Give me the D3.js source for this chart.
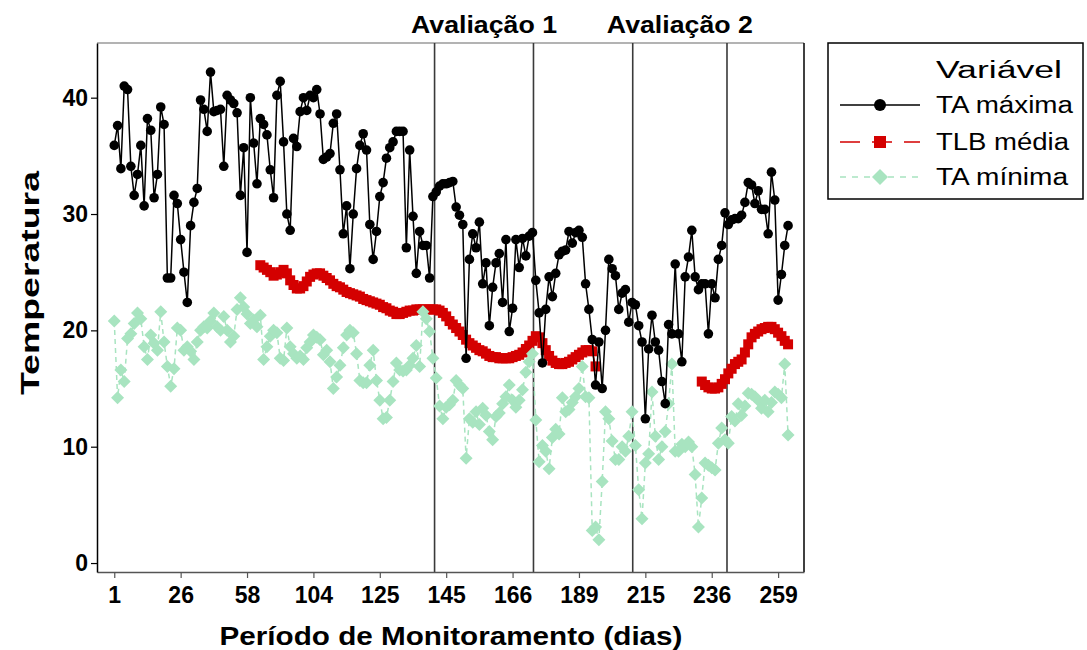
<!DOCTYPE html>
<html>
<head>
<meta charset="utf-8">
<script src="https://cdn.jsdelivr.net/npm/d3@7/dist/d3.min.js"></script>
<style>
  html, body { margin: 0; padding: 0; background: #fff; }
  svg { display: block; }
</style>
</head>
<body>
<svg id="chart" width="1087" height="650"></svg>
<script>
// Tick positions (observation index) and their day labels
const tickIndex = [1, 21, 41, 61, 81, 101, 121, 141, 161, 181, 201];
const tickLabels = ["1", "26", "58", "104", "125", "145", "166", "189", "215", "236", "259"];
const yTicks = [0, 10, 20, 30, 40];

// Reference lines for the two evaluation periods (observation index)
const evalLines = [97.5, 127.3, 157.2, 185.6];
const evalLabels = ["Avaliação 1", "Avaliação 2"];

// TA máxima, one value per observation
const taMax = [
  35.9, 37.6, 33.9, 41.0, 40.7, 34.1, 31.6, 33.4, 35.9, 30.7,
  38.2, 37.2, 31.4, 33.4, 39.2, 37.7, 24.5, 24.5, 31.6, 30.9,
  27.8, 25.0, 22.4, 29.0, 31.0, 32.2, 39.8, 39.0, 37.1, 42.2,
  38.8, 38.9, 39.0, 34.1, 40.2, 39.8, 39.5, 38.7, 31.6, 35.7,
  26.7, 40.0, 36.1, 32.6, 38.2, 37.7, 36.8, 33.8, 31.4, 40.2,
  41.4, 36.2, 30.0, 28.6, 36.5, 35.8, 38.8, 40.0, 38.9, 40.2,
  40.0, 40.7, 38.6, 34.7, 34.9, 35.2, 37.8, 38.6, 33.8, 28.3,
  30.7, 25.3, 30.0, 33.9, 35.9, 36.9, 35.5, 29.1, 26.1, 28.5,
  31.5, 32.7, 34.8, 35.7, 36.2, 37.1, 37.1, 37.1, 27.1, 35.5,
  29.8, 24.9, 28.5, 27.3, 27.3, 24.5, 31.5, 31.9, 32.4, 32.6,
  32.6, 32.7, 32.8, 30.6, 29.9, 29.1, 17.6, 26.1, 28.3, 27.1,
  29.3, 24.0, 25.8, 20.4, 23.7, 25.8, 26.6, 22.4, 27.8, 19.9,
  21.9, 27.8, 25.4, 27.9, 26.4, 28.1, 28.4, 24.3, 21.5, 17.2,
  21.8, 24.6, 22.9, 24.9, 26.5, 26.8, 26.9, 28.5, 27.5, 28.4,
  28.6, 28.0, 24.0, 21.8, 19.2, 15.3, 19.0, 15.0, 20.0, 26.1,
  25.3, 24.7, 21.8, 23.2, 23.5, 20.7, 22.4, 22.2, 20.4, 19.0,
  12.4, 18.4, 21.3, 19.0, 18.3, 15.6, 13.7, 20.5, 19.7, 25.7,
  19.7, 17.3, 24.6, 26.3, 28.6, 24.6, 23.5, 24.0, 24.0, 19.7,
  24.0, 22.8, 26.1, 27.3, 30.1, 29.1, 29.5, 29.6, 29.6, 29.9,
  31.0, 32.7, 32.5, 30.9, 32.0, 30.4, 30.4, 28.3, 33.6, 31.2,
  22.6, 24.8, 27.3, 29.0
];

// TA mínima, one value per observation
const taMin = [
  20.8, 14.2, 16.6, 15.6, 19.3, 19.7, 20.6, 21.5, 21.0, 18.6,
  17.5, 19.6, 18.9, 18.3, 21.6, 19.0, 16.9, 15.2, 16.7, 20.2,
  20.0, 18.3, 18.6, 18.2, 17.5, 19.0, 20.0, 20.3, 20.2, 20.8,
  21.5, 20.3, 20.0, 21.2, 20.0, 19.0, 19.5, 21.8, 22.8, 22.0,
  21.4, 20.6, 20.9, 20.3, 21.3, 17.5, 18.6, 19.5, 20.0, 19.8,
  17.6, 17.4, 20.2, 18.6, 18.0, 17.6, 17.8, 17.5, 18.5, 19.0,
  19.6, 19.4, 19.2, 17.9, 18.3, 17.3, 15.0, 16.0, 17.0, 18.5,
  19.6, 20.0, 19.8, 18.0, 15.7, 15.5, 15.5, 17.0, 18.3, 15.7,
  14.0, 12.4, 12.5, 14.0, 15.6, 17.2, 16.6, 16.5, 16.6, 17.0,
  17.6, 18.7, 16.9, 21.6, 21.0, 19.9, 17.6, 15.9, 13.5, 12.4,
  13.4, 13.6, 14.0, 15.7, 15.3, 15.0, 9.0, 12.4, 12.1, 13.0,
  11.9, 13.3, 12.7, 11.3, 10.6, 12.6, 12.9, 13.7, 14.3, 15.3,
  14.0, 13.4, 14.0, 14.9, 16.4, 17.3, 18.0, 12.3, 8.7, 10.1,
  9.6, 8.1, 10.8, 11.5, 11.1, 14.2, 13.0, 13.2, 13.8, 14.3,
  15.0, 16.9, 14.3, 14.2, 2.8, 3.1, 2.0, 7.0, 13.0, 12.4,
  10.5, 8.9, 8.9, 10.0, 9.6, 10.9, 13.0, 10.1, 6.3, 3.8,
  8.6, 9.4, 14.7, 10.9, 8.9, 10.0, 11.3, 13.7, 17.1, 9.6,
  9.6, 10.2, 10.0, 10.4, 10.0, 7.6, 3.1, 5.6, 8.6, 8.4,
  8.2, 8.0, 10.3, 11.6, 10.6, 10.3, 12.6, 12.2, 13.7, 12.7,
  13.5, 14.6, 14.5, 14.3, 14.0, 13.3, 14.0, 13.0, 13.8, 14.7,
  14.5, 14.2, 17.1, 11.0
];

// TLB média, two recorded stretches with their first observation index
const tlbStartA = 45;
const tlbA = [
  25.6, 25.4, 25.2, 25.0, 24.7, 24.8, 25.0, 25.2, 24.9, 24.3,
  23.9, 23.6, 23.6, 23.8, 24.2, 24.6, 24.8, 24.9, 24.9, 24.7,
  24.5, 24.3, 24.0, 23.8, 23.7, 23.5, 23.3, 23.2, 23.1, 23.0,
  22.9, 22.7, 22.6, 22.5, 22.4, 22.3, 22.2, 22.0, 21.9, 21.7,
  21.6, 21.4, 21.4, 21.5, 21.6, 21.7, 21.7, 21.8, 21.8, 21.8,
  21.8, 21.8, 21.8, 21.8, 21.7, 21.5, 21.2, 20.8, 20.5, 20.2,
  19.9, 19.6, 19.2, 18.9, 18.7, 18.5, 18.3, 18.2, 18.0, 17.8,
  17.7, 17.7, 17.6, 17.6, 17.6, 17.6, 17.7, 17.8, 17.9, 18.1,
  18.4, 18.7, 19.1, 19.5, 19.4, 18.9, 18.3, 17.8, 17.4, 17.2,
  17.1, 17.1, 17.2, 17.3, 17.5, 17.7, 17.9, 18.1, 18.3, 18.3,
  18.2, 16.9
];
const tlbStartB = 178;
const tlbB = [
  15.6, 15.3, 15.1, 15.0, 15.0, 15.1, 15.4, 15.8, 16.3, 16.7,
  17.1, 17.3, 17.5, 18.1, 18.8, 19.4, 19.7, 19.9, 20.1, 20.2,
  20.3, 20.3, 20.1, 19.8, 19.5, 19.1, 18.8
];

const seriesNames = ["TA máxima", "TLB média", "TA mínima"];
const colMax = "#000000", colTlb = "#d40000", colMin = "#a8e4c0";

const svg = d3.select("#chart");
const W = 1087, H = 650;
const plot = { left: 97, right: 804, top: 43, bottom: 572 };
const FONT = "Liberation Sans, Arial, sans-serif";

svg.append("rect").attr("width", W).attr("height", H).attr("fill", "#fff");

const x = d3.scaleLinear().domain([-4.2, 208.8]).range([plot.left, plot.right]);
const y = d3.scaleLinear().domain([-0.77, 44.7]).range([plot.bottom, plot.top]);

const toPts = (arr, start) => arr.map((v, k) => ({ i: start + k, v }));
const maxPts = toPts(taMax, 1);
const minPts = toPts(taMin, 1);
const tlbPtsA = toPts(tlbA, tlbStartA);
const tlbPtsB = toPts(tlbB, tlbStartB);

// frame
svg.append("line").attr("x1", plot.left).attr("x2", plot.right)
  .attr("y1", plot.top).attr("y2", plot.top).attr("stroke", "#9a9a9a").attr("stroke-width", 1.5);
svg.append("line").attr("x1", plot.right).attr("x2", plot.right)
  .attr("y1", plot.top).attr("y2", plot.bottom).attr("stroke", "#000").attr("stroke-width", 1.5);

// evaluation reference lines
svg.append("g").selectAll("line").data(evalLines).join("line")
  .attr("x1", d => x(d)).attr("x2", d => x(d))
  .attr("y1", plot.top).attr("y2", plot.bottom)
  .attr("stroke", "#3a3a3a").attr("stroke-width", 1.6);

svg.append("g").selectAll("text").data(evalLabels).join("text")
  .attr("x", (d, k) => (x(evalLines[2 * k]) + x(evalLines[2 * k + 1])) / 2)
  .attr("y", 33)
  .attr("text-anchor", "middle")
  .attr("font-family", FONT)
  .attr("font-weight", "bold").attr("font-size", 23)
  .attr("textLength", 146).attr("lengthAdjust", "spacingAndGlyphs")
  .text(d => d);

// axes
const xAxis = d3.axisBottom(x).tickValues(tickIndex)
  .tickFormat((d, k) => tickLabels[k]).tickSize(6).tickSizeOuter(0);
const gx = svg.append("g").attr("transform", `translate(0,${plot.bottom})`).call(xAxis);
gx.select(".domain").attr("stroke", "#555").attr("stroke-width", 1.5);
gx.selectAll(".tick line").attr("stroke", "#555").attr("stroke-width", 1.2);
gx.selectAll(".tick text")
  .attr("font-family", FONT)
  .attr("font-weight", "bold").attr("font-size", 23).attr("fill", "#000")
  .attr("y", 10).attr("dy", "0.9em");

const yAxis = d3.axisLeft(y).tickValues(yTicks).tickSize(6).tickSizeOuter(0);
const gy = svg.append("g").attr("transform", `translate(${plot.left},0)`).call(yAxis);
gy.select(".domain").attr("stroke", "#000").attr("stroke-width", 1.5);
gy.selectAll(".tick line").attr("stroke", "#000").attr("stroke-width", 1.2);
gy.selectAll(".tick text")
  .attr("font-family", FONT)
  .attr("font-weight", "bold").attr("font-size", 23).attr("fill", "#000").attr("x", -9);

// axis titles
svg.append("text").attr("x", 451).attr("y", 645).attr("text-anchor", "middle")
  .attr("font-family", FONT)
  .attr("font-weight", "bold").attr("font-size", 26)
  .attr("textLength", 463).attr("lengthAdjust", "spacingAndGlyphs")
  .text("Período de Monitoramento (dias)");
svg.append("text").attr("transform", "translate(39,283) rotate(-90)").attr("text-anchor", "middle")
  .attr("font-family", FONT)
  .attr("font-weight", "bold").attr("font-size", 26)
  .attr("textLength", 224).attr("lengthAdjust", "spacingAndGlyphs")
  .text("Temperatura");

const line = d3.line().x(d => x(d.i)).y(d => y(d.v));
const diamond = s => `M0,${-s}L${s},0L0,${s}L${-s},0Z`;

// TLB média
[tlbPtsA, tlbPtsB].forEach(pts => {
  svg.append("path").datum(pts).attr("d", line).attr("fill", "none")
    .attr("stroke", colTlb).attr("stroke-width", 1.5).attr("stroke-dasharray", "8,5");
  svg.append("g").selectAll("rect").data(pts).join("rect")
    .attr("x", d => x(d.i) - 5).attr("y", d => y(d.v) - 5)
    .attr("width", 10).attr("height", 10).attr("fill", colTlb);
});

// TA mínima
svg.append("path").datum(minPts).attr("d", line).attr("fill", "none")
  .attr("stroke", colMin).attr("stroke-width", 1.5).attr("stroke-dasharray", "5,4");
svg.append("g").selectAll("path").data(minPts).join("path")
  .attr("transform", d => `translate(${x(d.i)},${y(d.v)})`)
  .attr("d", diamond(6.5)).attr("fill", colMin);

// TA máxima
svg.append("path").datum(maxPts).attr("d", line).attr("fill", "none")
  .attr("stroke", colMax).attr("stroke-width", 1.5);
svg.append("g").selectAll("circle").data(maxPts).join("circle")
  .attr("cx", d => x(d.i)).attr("cy", d => y(d.v)).attr("r", 4.8).attr("fill", colMax);

// legend
const lg = svg.append("g");
lg.append("rect").attr("x", 828).attr("y", 43).attr("width", 255).attr("height", 156)
  .attr("fill", "#fff").attr("stroke", "#000").attr("stroke-width", 1.5);
lg.append("text").attr("x", 936).attr("y", 78)
  .attr("font-family", FONT).attr("font-size", 23)
  .attr("textLength", 126).attr("lengthAdjust", "spacingAndGlyphs").text("Variável");
const rowsY = [105, 142, 177];
const rowsW = [137, 133, 132];
seriesNames.forEach((name, k) => {
  const cy = rowsY[k];
  const g = lg.append("g");
  if (k === 0) {
    g.append("line").attr("x1", 840).attr("x2", 920).attr("y1", cy).attr("y2", cy)
      .attr("stroke", colMax).attr("stroke-width", 1.5);
    g.append("circle").attr("cx", 880).attr("cy", cy).attr("r", 6).attr("fill", colMax);
  } else if (k === 1) {
    g.append("line").attr("x1", 840).attr("x2", 920).attr("y1", cy).attr("y2", cy)
      .attr("stroke", colTlb).attr("stroke-width", 1.5).attr("stroke-dasharray", "20,12");
    g.append("rect").attr("x", 874).attr("y", cy - 6).attr("width", 12).attr("height", 12).attr("fill", colTlb);
  } else {
    g.append("line").attr("x1", 840).attr("x2", 920).attr("y1", cy).attr("y2", cy)
      .attr("stroke", colMin).attr("stroke-width", 1.5).attr("stroke-dasharray", "6,6");
    g.append("path").attr("transform", `translate(880,${cy})`).attr("d", diamond(8)).attr("fill", colMin);
  }
  g.append("text").attr("x", 936).attr("y", cy + 8)
    .attr("font-family", FONT).attr("font-size", 23)
    .attr("textLength", rowsW[k]).attr("lengthAdjust", "spacingAndGlyphs").text(name);
});
</script>
</body>
</html>
